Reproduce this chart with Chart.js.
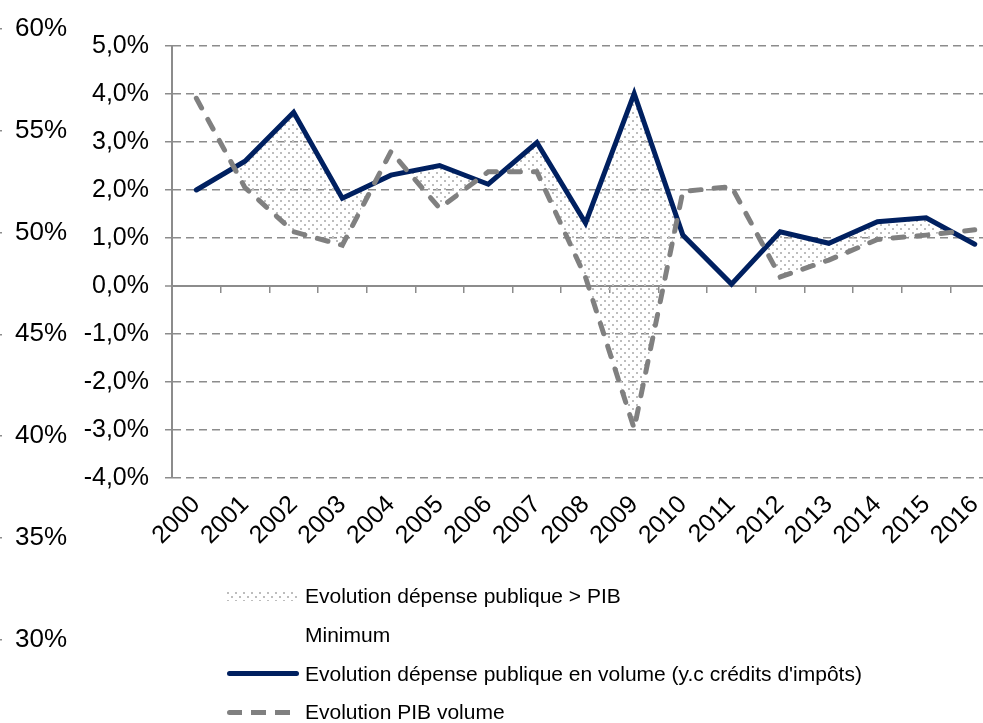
<!DOCTYPE html>
<html>
<head>
<meta charset="utf-8">
<script src="https://cdn.jsdelivr.net/npm/chart.js@4"></script>
<style>
  html, body { margin: 0; padding: 0; background: #fff; overflow: hidden; }
  #cadre { position: relative; width: 983px; height: 723px; overflow: hidden; font-family: "Liberation Sans", Arial, sans-serif; }
  #axe2 { position: absolute; left: -100px; top: 0; }
  #graphe { position: absolute; left: 0; top: 0; }
  #legende { position: absolute; left: 227px; top: 577px; font-size: 21px; color: #000; }
  .item { height: 38.7px; display: flex; align-items: center; white-space: nowrap; }
  .sym { width: 72px; height: 10px; margin-right: 6px; flex: none; }
</style>
</head>
<body>
<div id="cadre">
  <canvas id="axe2" width="200" height="723"></canvas>
  <canvas id="graphe" width="1008" height="723"></canvas>
  <div id="legende"></div>
</div>
<script>
// Données
var annees = ['2000', '2001', '2002', '2003', '2004', '2005', '2006', '2007', '2008',
  '2009', '2010', '2011', '2012', '2013', '2014', '2015', '2016'];
var depensePublique = [2.0, 2.6, 3.62, 1.83, 2.31, 2.51, 2.12, 2.99, 1.31,
  4.01, 1.06, 0.04, 1.13, 0.89, 1.34, 1.42, 0.87];
var pibVolume = [3.91, 2.05, 1.13, 0.85, 2.80, 1.62, 2.38, 2.38, 0.18,
  -2.97, 1.97, 2.07, 0.19, 0.54, 0.97, 1.06, 1.17];
var nomsSeries = ['Evolution dépense publique > PIB', 'Minimum',
  "Evolution dépense publique en volume (y.c crédits d'impôts)", 'Evolution PIB volume'];
var echelleGauche = [-4, 5, 1];     // min, max, pas (en %)
var echelleSecondaire = [30, 60, 5]; // min, max, pas (en %)

var police = '"Liberation Sans", Arial, sans-serif';
Chart.defaults.font.family = police;
Chart.defaults.color = '#000';

var bleu = '#002060';
var gris = '#808080';
var grille = '#8c8c8c';

// motif pointillé pour la zone dépense > PIB
var tuile = document.createElement('canvas');
tuile.width = 8; tuile.height = 8;
var tc = tuile.getContext('2d');
tc.fillStyle = '#bdbdbd';
tc.fillRect(0, 0, 2, 2);
tc.fillRect(4, 4, 2, 2);
var motif = tc.createPattern(tuile, 'repeat');

// axe secondaire à gauche (30% - 60%)
new Chart(document.getElementById('axe2'), {
  type: 'line',
  data: { labels: [], datasets: [] },
  options: {
    responsive: false,
    animation: false,
    layout: { padding: { top: 27, bottom: 83 } },
    plugins: { legend: { display: false }, tooltip: { enabled: false } },
    scales: {
      x: { display: false },
      y: {
        position: 'right',
        min: echelleSecondaire[0],
        max: echelleSecondaire[1],
        afterFit: function(s) { s.width = 103; },
        ticks: {
          stepSize: echelleSecondaire[2],
          padding: 13,
          font: { size: 26 },
          callback: function(v) { return v + '%'; }
        },
        grid: { drawOnChartArea: false, tickLength: 5, color: grille, lineWidth: 1.5 },
        border: { color: grille, width: 1.5 }
      }
    }
  }
});

var graphe = new Chart(document.getElementById('graphe'), {
  type: 'line',
  data: {
    labels: annees,
    datasets: [{
      label: nomsSeries[2],
      data: depensePublique,
      xAxisID: 'x',
      borderColor: bleu,
      borderWidth: 5,
      borderCapStyle: 'round',
      borderJoinStyle: 'miter',
      pointRadius: 0,
      tension: 0,
      order: 1,
      fill: { target: 1, above: motif, below: 'rgba(0,0,0,0)' }
    }, {
      label: nomsSeries[3],
      data: pibVolume,
      xAxisID: 'x',
      borderColor: gris,
      borderWidth: 5,
      borderDash: [11, 13],
      borderCapStyle: 'round',
      pointRadius: 0,
      tension: 0,
      order: 0,
      fill: false
    }]
  },
  options: {
    responsive: false,
    animation: false,
    layout: { padding: { top: 46, right: 1, left: 0, bottom: 0 } },
    plugins: { legend: { display: false }, tooltip: { enabled: false } },
    scales: {
      x: {
        offset: true,
        afterFit: function(s) { s.height = 245; },
        grid: { display: false, drawTicks: false },
        border: { display: false },
        ticks: {
          minRotation: 45,
          maxRotation: 45,
          autoSkip: false,
          padding: 12,
          font: { size: 25 }
        }
      },
      x2: {
        type: 'category',
        position: { y: 0 },
        offset: true,
        grid: { offset: true, drawOnChartArea: false, drawTicks: true, tickLength: 6, color: grille, lineWidth: 1.5 },
        border: { color: grille, width: 2 },
        ticks: { display: false }
      },
      y: {
        min: echelleGauche[0],
        max: echelleGauche[1],
        afterFit: function(s) { s.width = 172; },
        ticks: {
          stepSize: echelleGauche[2],
          padding: 16,
          font: { size: 25 },
          callback: function(v) { return v.toFixed(1).replace('.', ',') + '%'; }
        },
        grid: {
          color: grille,
          lineWidth: function(c) { return c.tick && c.tick.value === 0 ? 2 : 1.5; },
          tickLength: 7,
          tickColor: grille,
          tickWidth: 1.5
        },
        border: {
          color: grille,
          width: 2,
          dash: function(c) { return c.tick && c.tick.value === 0 ? [] : [8, 5]; }
        }
      }
    }
  }
});

// légende verticale sous le graphique
var legende = document.getElementById('legende');
var symboles = [
  'background-image:url(' + tuile.toDataURL() + ');height:9px;',
  '',
  'height:5px;background:' + bleu + ';border-radius:3px;',
  'height:5px;background:repeating-linear-gradient(90deg,' + gris + ' 0 15px,transparent 15px 24px);border-radius:3px;'
];
nomsSeries.forEach(function(nom, i) {
  var ligne = document.createElement('div');
  ligne.className = 'item';
  var sym = document.createElement('span');
  sym.className = 'sym';
  sym.style.cssText = symboles[i];
  var txt = document.createElement('span');
  txt.textContent = nom;
  ligne.appendChild(sym);
  ligne.appendChild(txt);
  legende.appendChild(ligne);
});
</script>
</body>
</html>
